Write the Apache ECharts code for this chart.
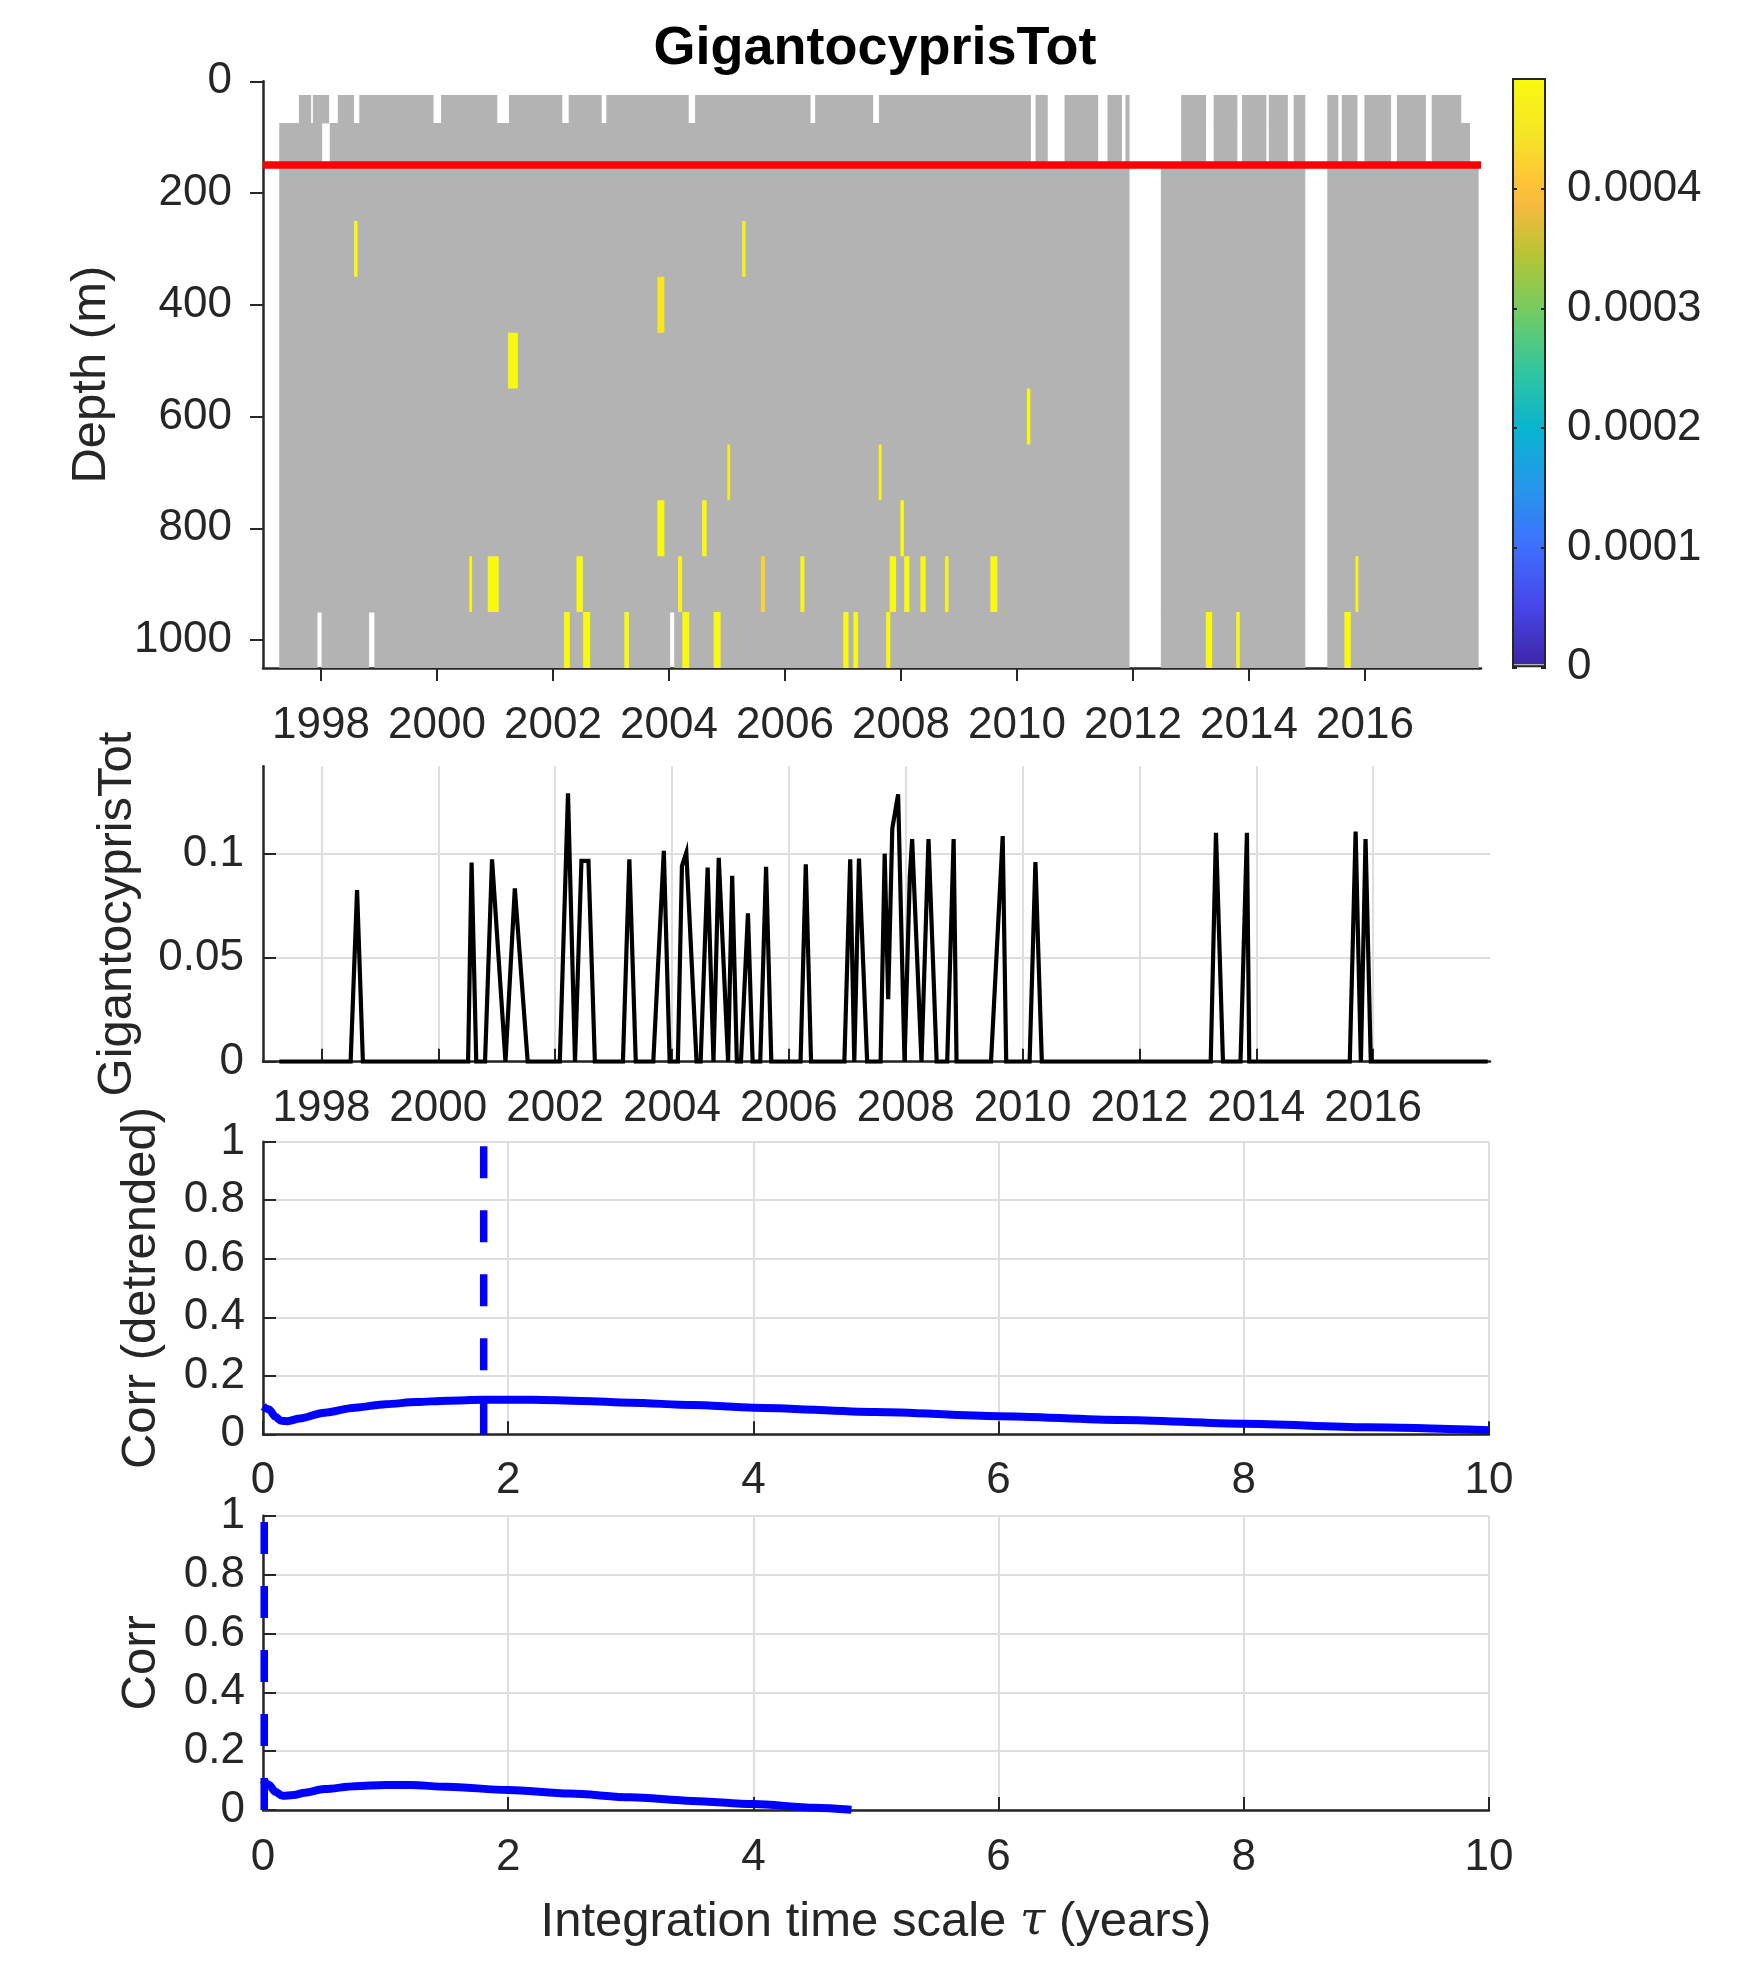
<!DOCTYPE html>
<html>
<head>
<meta charset="utf-8">
<title>GigantocyprisTot</title>
<script src="https://cdn.jsdelivr.net/npm/echarts@6/dist/echarts.min.js"></script>
<style>
  html, body { margin: 0; padding: 0; background: #fff; }
  #chart { width: 1750px; height: 1969px; }
</style>
</head>
<body>
<div id="chart"></div>
<script>
// ---- section plot (time x depth) ----
// sampled depth bands, m
const depthBands = [[25, 75], [75, 150], [150, 950], [950, 1050]]
const bandStart = [1997.62, 1997.28, 1997.28, 1997.28]
const bandEnd = [2017.66, 2017.81, 2017.96, 2017.96]

// missing casts (white) per band, decimal years
const gapsAllRows = [[2011.94, 2012.48], [2014.97, 2015.35]]
const gapsLateShallow = [
  [2010.24, 2010.32], [2010.53, 2010.82], [2011.40, 2011.56], [2011.81, 2011.87],
  [2011.94, 2012.83], [2013.26, 2013.39], [2013.80, 2013.88], [2014.30, 2014.34],
  [2014.67, 2014.77], [2015.54, 2015.60], [2015.87, 2015.99], [2016.45, 2016.55],
  [2017.05, 2017.15]
]
const gapsTopRow = [
  [1997.83, 1997.86], [1998.14, 1998.29], [1998.57, 1998.66], [1999.94, 2000.07],
  [2001.04, 2001.24], [2002.16, 2002.27], [2002.84, 2002.92], [2004.34, 2004.45],
  [2006.44, 2006.52], [2007.52, 2007.62]
]
const gapsSecondRow = [[1998.02, 1998.15]]
const gapsBottomRow = [[1997.94, 1998.01], [1998.83, 1998.92], [2004.02, 2004.09]]

// non-zero cells: [year, depth (m), value, cell width (yr)]
const hotCells = [
  [1998.60, 300, 0.00049, 0.06], [2005.29, 300, 0.00047, 0.06],
  [2003.86, 400, 0.00045, 0.12],
  [2001.31, 500, 0.00049, 0.17],
  [2010.20, 600, 0.00049, 0.06],
  [2005.03, 700, 0.00046, 0.05], [2007.64, 700, 0.00048, 0.05],
  [2003.86, 800, 0.00049, 0.12], [2004.61, 800, 0.00049, 0.08], [2008.02, 800, 0.00049, 0.06],
  [2000.58, 900, 0.00048, 0.05], [2000.97, 900, 0.00049, 0.19], [2002.46, 900, 0.00049, 0.11],
  [2004.19, 900, 0.00048, 0.07], [2005.62, 900, 0.00042, 0.07], [2006.30, 900, 0.00048, 0.07],
  [2007.86, 900, 0.00049, 0.11], [2008.10, 900, 0.00049, 0.09], [2008.38, 900, 0.00049, 0.09],
  [2008.79, 900, 0.00048, 0.06], [2009.60, 900, 0.00049, 0.12], [2015.86, 900, 0.00048, 0.05],
  [2002.24, 1000, 0.00049, 0.10], [2002.58, 1000, 0.00049, 0.12], [2003.27, 1000, 0.00049, 0.08],
  [2004.29, 1000, 0.00049, 0.12], [2004.83, 1000, 0.00049, 0.12], [2007.05, 1000, 0.00049, 0.09],
  [2007.22, 1000, 0.00049, 0.08], [2007.78, 1000, 0.00049, 0.07], [2013.31, 1000, 0.00049, 0.11],
  [2013.81, 1000, 0.00049, 0.06], [2015.70, 1000, 0.00049, 0.11]
]
const redLineDepth = 150
const cbarMax = 0.000493
const cbarTicks = [0, 0.0001, 0.0002, 0.0003, 0.0004]
const yearTicks = [1998, 2000, 2002, 2004, 2006, 2008, 2010, 2012, 2014, 2016]
const depthTicks = [0, 200, 400, 600, 800, 1000]

// ---- integrated series ----
const integrated = [
  [1997.28, 0],
  [1998.50, 0], [1998.61, 0.0825], [1998.71, 0],
  [2000.51, 0], [2000.57, 0.0957], [2000.65, 0],
  [2000.80, 0], [2000.92, 0.0973], [2001.15, 0],
  [2001.31, 0.0833], [2001.53, 0],
  [2002.08, 0], [2002.22, 0.129], [2002.34, 0],
  [2002.45, 0.0965], [2002.57, 0.0965], [2002.68, 0],
  [2003.16, 0], [2003.27, 0.0973], [2003.38, 0],
  [2003.68, 0], [2003.86, 0.1014], [2003.96, 0],
  [2004.10, 0], [2004.17, 0.094], [2004.245, 0.1005], [2004.42, 0],
  [2004.49, 0], [2004.61, 0.0933], [2004.71, 0],
  [2004.80, 0.098], [2004.96, 0],
  [2005.03, 0.0894], [2005.11, 0],
  [2005.18, 0], [2005.30, 0.0713], [2005.38, 0],
  [2005.51, 0], [2005.61, 0.0937], [2005.70, 0],
  [2006.20, 0], [2006.29, 0.0949], [2006.38, 0],
  [2006.95, 0], [2007.05, 0.0973], [2007.12, 0],
  [2007.20, 0.0976], [2007.34, 0],
  [2007.57, 0], [2007.64, 0.100], [2007.70, 0.03],
  [2007.77, 0.112], [2007.87, 0.1285], [2007.98, 0],
  [2008.07, 0.089], [2008.11, 0.107], [2008.27, 0],
  [2008.30, 0], [2008.39, 0.107], [2008.53, 0],
  [2008.71, 0], [2008.82, 0.107], [2008.87, 0],
  [2009.46, 0], [2009.66, 0.1085], [2009.72, 0],
  [2010.12, 0], [2010.22, 0.096], [2010.33, 0],
  [2013.22, 0], [2013.31, 0.110], [2013.43, 0],
  [2013.73, 0], [2013.84, 0.110], [2013.88, 0],
  [2015.60, 0], [2015.70, 0.1106], [2015.79, 0],
  [2015.87, 0.107], [2015.96, 0],
  [2017.96, 0]
]
const integratedTicks = [0, 0.05, 0.1]

// ---- correlation vs integration time scale ----
const corrDetrended = [
  [0, 0.095], [0.05, 0.085], [0.1, 0.06], [0.15, 0.046], [0.2, 0.045], [0.3, 0.054],
  [0.5, 0.074], [0.75, 0.091], [1.0, 0.103], [1.25, 0.110], [1.5, 0.115], [1.8, 0.118],
  [2.2, 0.118], [2.6, 0.114], [3.0, 0.108], [3.5, 0.100], [4.0, 0.091], [5.0, 0.076],
  [6.0, 0.062], [7.0, 0.049], [8.0, 0.036], [9.0, 0.024], [10.0, 0.014]
]
const tauDetrended = 1.8
const corrRaw = [
  [0, 0.102], [0.05, 0.085], [0.1, 0.062], [0.16, 0.048], [0.25, 0.051], [0.34, 0.059],
  [0.5, 0.071], [0.75, 0.081], [1.0, 0.085], [1.2, 0.085], [1.5, 0.079], [2.0, 0.068],
  [2.5, 0.056], [3.0, 0.043], [3.5, 0.031], [4.0, 0.020], [4.5, 0.008], [4.8, 0.001]
]
const tauRaw = 0.01

// ---- style ----
const FONT = "'Liberation Sans', Arial, Helvetica, sans-serif"
const AX = '#262626'
const GRIDC = '#dedede'
const NODATA_GRAY = '#b3b3b3'
const BLUE = '#0000ff'
const PARULA = [
  [0.00, '#3e26a8'], [0.10, '#4747eb'], [0.20, '#3e6ffe'], [0.30, '#2796eb'],
  [0.40, '#08b4d0'], [0.50, '#31c6a0'], [0.60, '#71cc63'], [0.70, '#b8c434'],
  [0.78, '#f4ba3e'], [0.82, '#ffc337'], [0.90, '#f5e327'], [1.00, '#f9fa0e']
]

function hexToRgb(h) {
  return [1, 3, 5].map(i => parseInt(h.substr(i, 2), 16))
}

function parulaColor(v) {
  const f = Math.max(0, Math.min(1, v / cbarMax))
  for (let i = 1; i < PARULA.length; i++) {
    if (f <= PARULA[i][0]) {
      const [f0, c0] = PARULA[i - 1]
      const [f1, c1] = PARULA[i]
      const t = (f - f0) / (f1 - f0)
      const a = hexToRgb(c0), b = hexToRgb(c1)
      const rgb = a.map((x, k) => Math.round(x + (b[k] - x) * t))
      return 'rgb(' + rgb.join(',') + ')'
    }
  }
  return PARULA[PARULA.length - 1][1]
}

// split [start, end] around the missing intervals
function spans(start, end, gaps) {
  const sorted = gaps.slice().sort((a, b) => a[0] - b[0])
  const out = []
  let t = start
  sorted.forEach(([g0, g1]) => {
    if (g1 <= t || g0 >= end) return
    if (g0 > t) out.push([t, g0])
    t = Math.max(t, g1)
  })
  if (t < end) out.push([t, end])
  return out
}

const bandGaps = [
  gapsTopRow.concat(gapsLateShallow, gapsAllRows),
  gapsSecondRow.concat(gapsLateShallow, gapsAllRows),
  gapsAllRows,
  gapsBottomRow.concat(gapsAllRows)
]

// rect rows: [t0, t1, depthTop, depthBottom, value]
const sectionCells = []
depthBands.forEach((band, i) => {
  spans(bandStart[i], bandEnd[i], bandGaps[i]).forEach(([t0, t1]) => {
    sectionCells.push([t0, t1, band[0], band[1], 0])
  })
})
hotCells.forEach(([t, d, v, w]) => {
  sectionCells.push([t - w / 2, t + w / 2, d - 50, d + 50, v])
})

const plain = v => String(v)

function axisBase(extra) {
  return Object.assign({
    type: 'value',
    axisLine: { show: true, onZero: false, lineStyle: { color: AX, width: 2.5 } },
    axisTick: { show: true, inside: true, length: 13, lineStyle: { color: AX, width: 2 } },
    axisLabel: { fontFamily: FONT, fontSize: 44, color: AX, formatter: plain },
    splitLine: { show: true, lineStyle: { color: GRIDC, width: 2 } },
    nameTextStyle: { fontFamily: FONT, fontSize: 49, color: AX }
  }, extra)
}

const cbarStops = [{ offset: 0, color: NODATA_GRAY }, { offset: 0.005, color: NODATA_GRAY }]
PARULA.forEach(([f, c]) => cbarStops.push({ offset: 0.006 + f * 0.994, color: c }))

const chart = echarts.init(document.getElementById('chart'))

const option = {
  animation: false,
  backgroundColor: '#fff',
  title: {
    text: 'GigantocyprisTot',
    left: 'center',
    top: 17,
    textStyle: { fontFamily: FONT, fontSize: 54, fontWeight: 'bold', color: '#000' }
  },
  grid: [
    { left: 263, top: 81.3, width: 1218, height: 586.7, outerBoundsMode: 'none' },
    { left: 1512, top: 78, width: 34, height: 589.3, outerBoundsMode: 'none' },
    { left: 263, top: 766.3, width: 1227, height: 295.4, outerBoundsMode: 'none' },
    { left: 263, top: 1141.7, width: 1226, height: 292.6, outerBoundsMode: 'none' },
    { left: 263, top: 1515.7, width: 1226, height: 294.3, outerBoundsMode: 'none' }
  ],
  xAxis: [
    axisBase({
      gridIndex: 0, min: 1997, max: 2018,
      axisTick: { show: true, inside: false, length: 13, customValues: yearTicks, lineStyle: { color: AX, width: 2 } },
      axisLabel: { fontFamily: FONT, fontSize: 44, color: AX, margin: 36, customValues: yearTicks, formatter: plain },
      splitLine: { show: false }
    }),
    { type: 'category', gridIndex: 1, data: [''], show: false },
    axisBase({
      gridIndex: 2, min: 1997, max: 2018,
      axisTick: { show: true, inside: true, length: 13, customValues: yearTicks, lineStyle: { color: AX, width: 2 } },
      axisLabel: { fontFamily: FONT, fontSize: 44, color: AX, margin: 25, customValues: yearTicks, formatter: plain }
    }),
    axisBase({ gridIndex: 3, min: 0, max: 10, interval: 2,
      axisLabel: { fontFamily: FONT, fontSize: 44, color: AX, margin: 25, formatter: plain } }),
    axisBase({
      gridIndex: 4, min: 0, max: 10, interval: 2,
      axisLabel: { fontFamily: FONT, fontSize: 44, color: AX, margin: 26, formatter: plain },
      name: 'Integration time scale {tau|τ} (years)',
      nameLocation: 'middle', nameGap: 88,
      nameTextStyle: {
        fontFamily: FONT, fontSize: 49, color: AX,
        rich: { tau: { fontFamily: "'DejaVu Serif', 'Liberation Serif', serif", fontStyle: 'italic', fontSize: 46, color: AX } }
      }
    })
  ],
  yAxis: [
    axisBase({
      gridIndex: 0, min: 0, max: 1050, inverse: true,
      axisTick: { show: true, inside: false, length: 13, customValues: depthTicks, lineStyle: { color: AX, width: 2 } },
      axisLabel: { fontFamily: FONT, fontSize: 44, color: AX, margin: 31, customValues: depthTicks, formatter: plain },
      splitLine: { show: false },
      name: 'Depth (m)', nameLocation: 'middle', nameRotate: 90, nameGap: 147
    }),
    axisBase({
      gridIndex: 1, min: 0, max: cbarMax, position: 'right', z: 5,
      axisLine: { show: false },
      axisTick: { show: true, inside: true, length: 5, customValues: cbarTicks, lineStyle: { color: AX, width: 2 } },
      axisLabel: {
        fontFamily: FONT, fontSize: 44, color: AX, margin: 21, customValues: cbarTicks,
        formatter: v => (v === 0 ? '0' : v.toFixed(4))
      },
      splitLine: { show: false }
    }),
    axisBase({
      gridIndex: 1, min: 0, max: cbarMax, position: 'left', z: 5,
      axisLine: { show: false },
      axisTick: { show: true, inside: true, length: 5, customValues: cbarTicks, lineStyle: { color: AX, width: 2 } },
      axisLabel: { show: false },
      splitLine: { show: false }
    }),
    axisBase({
      gridIndex: 2, min: 0, max: 0.142,
      axisTick: { show: true, inside: true, length: 13, customValues: integratedTicks, lineStyle: { color: AX, width: 2 } },
      axisLabel: { fontFamily: FONT, fontSize: 44, color: AX, margin: 19, customValues: integratedTicks, formatter: plain },
      name: 'GigantocyprisTot', nameLocation: 'middle', nameRotate: 90, nameGap: 121
    }),
    axisBase({
      gridIndex: 3, min: 0, max: 1, interval: 0.2,
      axisLabel: { fontFamily: FONT, fontSize: 44, color: AX, margin: 18, formatter: plain },
      name: 'Corr (detrended)', nameLocation: 'middle', nameRotate: 90, nameGap: 97
    }),
    axisBase({
      gridIndex: 4, min: 0, max: 1, interval: 0.2,
      axisLabel: { fontFamily: FONT, fontSize: 44, color: AX, margin: 18, formatter: plain },
      name: 'Corr', nameLocation: 'middle', nameRotate: 90, nameGap: 97
    })
  ],
  series: [
    {
      type: 'custom',
      xAxisIndex: 0, yAxisIndex: 0,
      data: sectionCells,
      encode: { x: [0, 1], y: [2, 3] },
      clip: true,
      renderItem: (params, api) => {
        const v = api.value(4)
        const p0 = api.coord([api.value(0), api.value(2)])
        const p1 = api.coord([api.value(1), api.value(3)])
        const pad = v === 0 ? 0.6 : 0
        return {
          type: 'rect',
          shape: { x: p0[0], y: p0[1] - pad / 2, width: p1[0] - p0[0], height: p1[1] - p0[1] + pad },
          style: { fill: v === 0 ? NODATA_GRAY : parulaColor(v) }
        }
      },
      z: 2
    },
    {
      type: 'line',
      xAxisIndex: 0, yAxisIndex: 0,
      data: [[1997, redLineDepth], [2018, redLineDepth]],
      symbol: 'none',
      lineStyle: { color: '#ff0000', width: 7.5 },
      z: 4
    },
    {
      type: 'bar',
      xAxisIndex: 1, yAxisIndex: 1,
      data: [cbarMax],
      barWidth: '100%',
      itemStyle: {
        color: new echarts.graphic.LinearGradient(0, 1, 0, 0, cbarStops),
        borderColor: AX, borderWidth: 2
      }
    },
    {
      type: 'line',
      xAxisIndex: 2, yAxisIndex: 3,
      data: integrated,
      symbol: 'none',
      lineStyle: { color: '#000', width: 4.2, join: 'miter' }
    },
    {
      type: 'line',
      xAxisIndex: 3, yAxisIndex: 4,
      data: corrDetrended,
      symbol: 'none', smooth: 0.3, smoothMonotone: 'x',
      lineStyle: { color: BLUE, width: 8 }
    },
    {
      type: 'line',
      xAxisIndex: 3, yAxisIndex: 4,
      data: [[tauDetrended, 0], [tauDetrended, 1]],
      symbol: 'none',
      lineStyle: { color: BLUE, width: 7.5, type: [32, 32] }
    },
    {
      type: 'line',
      xAxisIndex: 4, yAxisIndex: 5,
      data: corrRaw,
      symbol: 'none', smooth: 0.3, smoothMonotone: 'x',
      lineStyle: { color: BLUE, width: 8 }
    },
    {
      type: 'line',
      xAxisIndex: 4, yAxisIndex: 5,
      data: [[tauRaw, 0], [tauRaw, 1]],
      symbol: 'none',
      lineStyle: { color: BLUE, width: 7.5, type: [32, 32] }
    }
  ]
}

chart.setOption(option)
window.addEventListener('resize', () => chart.resize())
</script>
</body>
</html>
